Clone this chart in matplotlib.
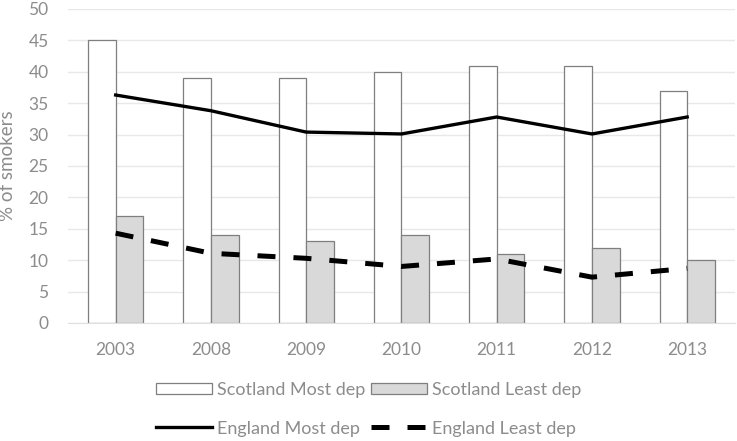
import matplotlib
matplotlib.use("Agg")
import matplotlib.pyplot as plt
import numpy as np

years = ["2003", "2008", "2009", "2010", "2011", "2012", "2013"]
scot_most = [45, 39, 39, 40, 41, 41, 37]
scot_least = [17, 14, 13, 14, 11, 12, 10]
eng_most = [36.3, 33.8, 30.4, 30.1, 32.8, 30.1, 32.8]
eng_least = [14.3, 11.1, 10.3, 9.0, 10.2, 7.3, 8.7]

plt.rcParams['font.family'] = ['Lato', 'DejaVu Sans']
fig = plt.figure(figsize=(7.37, 4.41), dpi=100)
ax = fig.add_axes([0.0923, 0.2676, 0.9047, 0.712])

x = np.arange(len(years))
w = 0.29
b1 = ax.bar(x - w/2, scot_most, w, color="white", edgecolor="#7f7f7f", linewidth=0.9,
            label="Scotland Most dep", zorder=2)
b2 = ax.bar(x + w/2, scot_least, w, color="#d9d9d9", edgecolor="#7f7f7f", linewidth=0.9,
            label="Scotland Least dep", zorder=2)
l1, = ax.plot(x, eng_most, color="black", lw=2.4, label="England Most dep", zorder=3)
l2, = ax.plot(x, eng_least, color="black", lw=3.6, ls=(0, (3.6, 3.6)),
              dash_capstyle="butt", label="England Least dep", zorder=3)

ax.set_xlim(-0.5, len(years) - 0.5)
ax.set_ylim(0, 50)
ax.set_yticks(range(0, 51, 5))
ax.set_xticks(x)
ax.set_xticklabels(years)
ax.grid(axis="y", color="#e8e8e8", lw=1, zorder=0)
ax.set_axisbelow(True)
for s in ["top", "right", "left"]:
    ax.spines[s].set_visible(False)
ax.spines["bottom"].set_color("#e0e0e0")
ax.tick_params(length=0, labelsize=12.5, labelcolor="#8c8c8c")
ax.tick_params(axis="x", pad=14)
ax.tick_params(axis="y", pad=14)
ax.set_ylabel("% of smokers", fontsize=13.5, color="#8c8c8c", labelpad=9)

fig.legend(handles=[b1, l1, b2, l2], loc="center", bbox_to_anchor=(0.5, 0.072),
           ncol=2, frameon=False, fontsize=13, labelcolor="#8c8c8c",
           handlelength=3.1, handleheight=0.6, handletextpad=0.3,
           columnspacing=0.3, labelspacing=1.25)

fig.savefig("out.png", dpi=100)
